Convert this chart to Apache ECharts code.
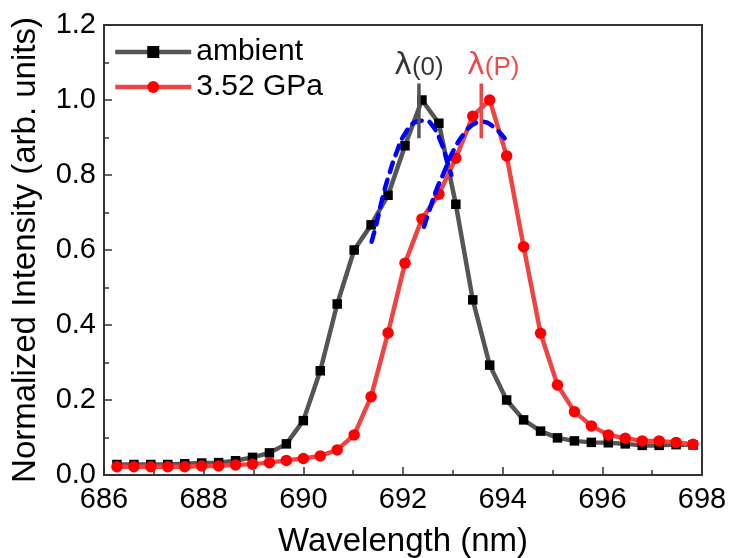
<!DOCTYPE html>
<html>
<head>
<meta charset="utf-8">
<script src="https://cdn.jsdelivr.net/npm/echarts@6/dist/echarts.min.js"></script>
<style>html,body{margin:0;padding:0;background:#fff}#c{width:730px;height:558px}</style>
</head>
<body>
<div id="c"></div>
<script>
// ---- data ----
const wavelength = [686.26, 686.60, 686.94, 687.28, 687.62, 687.96, 688.30, 688.64, 688.98, 689.32,
  689.66, 690.00, 690.34, 690.68, 691.02, 691.36, 691.70, 692.04, 692.38, 692.72,
  693.06, 693.40, 693.74, 694.08, 694.42, 694.76, 695.10, 695.44, 695.78, 696.12,
  696.46, 696.80, 697.14, 697.48, 697.82];
const ambient = [0.028, 0.028, 0.028, 0.028, 0.030, 0.032, 0.033, 0.038, 0.047, 0.059,
  0.083, 0.145, 0.278, 0.456, 0.600, 0.667, 0.746, 0.878, 1.000, 0.938,
  0.722, 0.467, 0.293, 0.200, 0.147, 0.117, 0.099, 0.091, 0.087, 0.086,
  0.083, 0.079, 0.079, 0.081, 0.080];
const pressure = [0.022, 0.022, 0.022, 0.022, 0.022, 0.024, 0.024, 0.027, 0.029, 0.033,
  0.039, 0.044, 0.051, 0.067, 0.107, 0.209, 0.379, 0.565, 0.683, 0.749,
  0.845, 0.957, 1.000, 0.851, 0.609, 0.378, 0.240, 0.169, 0.131, 0.107,
  0.098, 0.091, 0.091, 0.087, 0.082];
const fitAmbientX = [691.37, 691.47, 691.60, 691.73, 691.87, 692.03, 692.27, 692.45, 692.61, 692.74, 692.87, 692.97];
const fitAmbientY = [0.622, 0.672, 0.745, 0.805, 0.860, 0.908, 0.942, 0.945, 0.928, 0.895, 0.845, 0.800];
const fitPressureX = [692.42, 692.55, 692.67, 692.80, 693.00, 693.27, 693.45, 693.60, 693.80, 694.04];
const fitPressureY = [0.662, 0.714, 0.760, 0.800, 0.862, 0.918, 0.938, 0.942, 0.930, 0.898];
const peakAmbient = 692.32;
const peakPressure = 693.57;
const peakMarkRange = [0.898, 1.044];
const seriesNames = ['ambient', '3.52 GPa'];
const xTicks = [686, 688, 690, 692, 694, 696, 698];
const yTicks = [0.0, 0.2, 0.4, 0.6, 0.8, 1.0, 1.2];
const annotations = [
  { key: '0', x: 692.32, y: 1.090, color: '#000000' },
  { key: 'P', x: 693.81, y: 1.090, color: '#ee1c1c' }
];

// ---- chart ----
const FONT = '"Liberation Sans", Arial, sans-serif';
const zip = (xs, ys) => xs.map((x, i) => [x, ys[i]]);
const chart = echarts.init(document.getElementById('c'), null, { renderer: 'canvas' });

const axisCommon = {
  axisLine: { show: true, onZero: false, lineStyle: { color: '#333', width: 2 } },
  axisTick: { show: true, inside: true, length: 8, lineStyle: { color: '#333', width: 1.5 } },
  minorTick: { show: true, splitNumber: 2, length: 5, lineStyle: { color: '#333', width: 1.5 } },
  splitLine: { show: false },
  axisLabel: { color: '#000', fontSize: 29, fontFamily: FONT },
  nameTextStyle: { color: '#000', fontSize: 33, fontFamily: FONT }
};

chart.setOption({
  animation: false,
  backgroundColor: '#fff',
  textStyle: { fontFamily: FONT },
  grid: { left: 104, right: 28, top: 25, bottom: 83, show: true, borderColor: '#333', borderWidth: 2,
          containLabel: false, outerBoundsMode: 'none' },
  legend: {
    data: seriesNames,
    orient: 'vertical',
    left: 108, top: 32,
    itemWidth: 76, itemHeight: 15, itemGap: 5,
    lineStyle: { width: 4.5 },
    textStyle: { fontSize: 30, color: '#000', fontFamily: FONT, padding: [0, 0, 0, 0] }
  },
  xAxis: Object.assign({}, axisCommon, {
    type: 'value', min: xTicks[0], max: xTicks[xTicks.length - 1], interval: 2,
    name: 'Wavelength (nm)', nameLocation: 'middle', nameGap: 50,
    axisLabel: Object.assign({}, axisCommon.axisLabel, { margin: 10, formatter: v => String(v) })
  }),
  yAxis: Object.assign({}, axisCommon, {
    type: 'value', min: yTicks[0], max: yTicks[yTicks.length - 1], interval: 0.2,
    name: 'Normalized Intensity (arb. units)', nameLocation: 'middle', nameGap: 62,
    axisLabel: Object.assign({}, axisCommon.axisLabel, { margin: 8, formatter: v => v.toFixed(1) })
  }),
  series: [
    {
      name: seriesNames[0], type: 'line', data: zip(wavelength, ambient),
      symbol: 'rect', symbolSize: 9.5,
      lineStyle: { color: '#555555', width: 4.5 },
      itemStyle: { color: '#000000' }, z: 2
    },
    {
      name: seriesNames[1], type: 'line', data: zip(wavelength, pressure),
      symbol: 'circle', symbolSize: 11.5,
      lineStyle: { color: '#ee4444', width: 4.5 },
      itemStyle: { color: '#ff0000' }, z: 3
    },
    {
      type: 'line', data: zip(fitAmbientX, fitAmbientY), smooth: true, symbol: 'none',
      lineStyle: { color: '#0000ff', width: 4.5, type: [10, 8], cap: 'round' }, z: 4
    },
    {
      type: 'line', data: zip(fitPressureX, fitPressureY), smooth: true, symbol: 'none',
      lineStyle: { color: '#0000ff', width: 4.5, type: [10, 8], cap: 'round' }, z: 4
    },
    {
      type: 'line', data: peakMarkRange.map(v => [peakAmbient, v]), symbol: 'none',
      lineStyle: { color: '#555555', width: 3.5 }, z: 5
    },
    {
      type: 'line', data: peakMarkRange.map(v => [peakPressure, v]), symbol: 'none',
      lineStyle: { color: '#ee4444', width: 3.5 }, z: 5
    },
    {
      type: 'scatter', symbolSize: 0, z: 6, silent: true,
      data: annotations.map(a => ({
        value: [a.x, a.y],
        label: {
          show: true, position: 'inside',
          formatter: '{l|λ}{t|(' + a.key + ')}',
          rich: {
            l: { fontSize: 30, color: a.color, fontFamily: '"DejaVu Sans", sans-serif', verticalAlign: 'bottom' },
            t: { fontSize: 26, color: a.color, fontFamily: FONT, verticalAlign: 'bottom' }
          }
        }
      }))
    }
  ]
});
</script>
</body>
</html>
